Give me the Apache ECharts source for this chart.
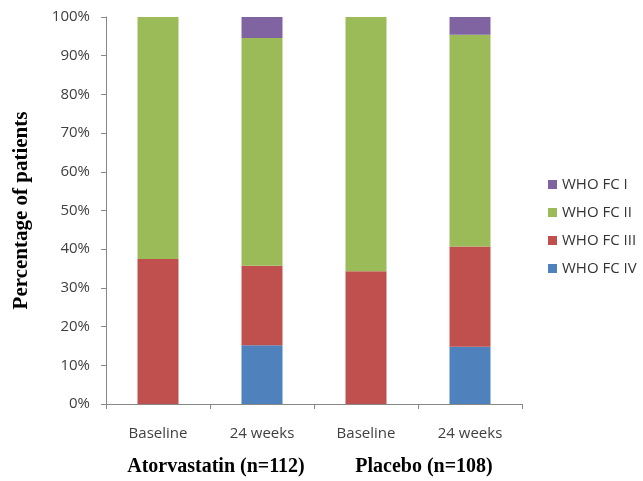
<!DOCTYPE html>
<html>
<head>
<meta charset="utf-8">
<script src="https://cdn.jsdelivr.net/npm/echarts@6/dist/echarts.min.js"></script>
<style>
html,body{margin:0;padding:0;background:#fff;}
#chart{width:643px;height:481px;}
</style>
</head>
<body>
<div id="chart"></div>
<script>
const categories = ['Baseline', '24 weeks', 'Baseline', '24 weeks'];
const groups = ['Atorvastatin (n=112)', 'Placebo (n=108)'];
const yTicks = [0, 10, 20, 30, 40, 50, 60, 70, 80, 90, 100];
const seriesNames = ['WHO FC I', 'WHO FC II', 'WHO FC III', 'WHO FC IV'];
const fcIV  = [0, 15.2, 0, 14.8];
const fcIII = [37.5, 20.5, 34.3, 25.9];
const fcII  = [62.5, 58.9, 65.7, 54.7];
const fcI   = [0, 5.4, 0, 4.6];

const colors = { 'WHO FC I': '#8064A2', 'WHO FC II': '#9BBB59', 'WHO FC III': '#C0504D', 'WHO FC IV': '#4F81BD' };
const sansFont = '"Open Sans", sans-serif';
const serifFont = '"Liberation Serif", "Times New Roman", serif';

const chart = echarts.init(document.getElementById('chart'), null, { renderer: 'canvas' });

function barSeries(name, data) {
  return {
    name: name, type: 'bar', stack: 'total', data: data, barWidth: 41,
    xAxisIndex: 0, yAxisIndex: 0,
    itemStyle: { color: colors[name] }
  };
}

chart.setOption({
  animation: false,
  backgroundColor: '#ffffff',
  grid: { left: 106, right: 121, top: 17, bottom: 77, containLabel: false, outerBoundsMode: 'none' },
  legend: {
    data: seriesNames,
    orient: 'vertical',
    left: 543, top: 172,
    itemWidth: 9, itemHeight: 9, itemGap: 13,
    icon: 'rect',
    textStyle: { fontFamily: sansFont, fontSize: 15, color: '#333333' }
  },
  xAxis: [
    {
      type: 'category', data: categories, position: 'bottom',
      axisLine: { lineStyle: { color: '#888888', width: 1 } },
      axisTick: { show: true, length: 5, lineStyle: { color: '#888888' } },
      axisLabel: { fontFamily: sansFont, fontSize: 15, color: '#404040', margin: 22, interval: 0 }
    },
    {
      type: 'category', data: groups, position: 'bottom', gridIndex: 0,
      axisLine: { show: false }, axisTick: { show: false },
      axisLabel: { fontFamily: serifFont, fontWeight: 'bold', fontSize: 20, color: '#000000', margin: 53, padding: [0, 0, 0, 12], interval: 0, hideOverlap: false }
    }
  ],
  yAxis: {
    type: 'value', min: 0, max: 100, interval: 10,
    name: 'Percentage of patients', nameLocation: 'middle', nameGap: 74, nameRotate: 90,
    nameTextStyle: { fontFamily: serifFont, fontWeight: 'bold', fontSize: 21, color: '#000000' },
    axisLine: { show: true, lineStyle: { color: '#888888', width: 1 } },
    axisTick: { show: true, length: 5, lineStyle: { color: '#888888' } },
    splitLine: { show: false },
    axisLabel: {
      fontFamily: sansFont, fontSize: 15, color: '#404040', margin: 16,
      formatter: function (v) { return yTicks.indexOf(v) >= 0 ? v + '%' : ''; }
    }
  },
  series: [
    barSeries('WHO FC IV', fcIV),
    barSeries('WHO FC III', fcIII),
    barSeries('WHO FC II', fcII),
    barSeries('WHO FC I', fcI)
  ]
});
</script>
</body>
</html>
